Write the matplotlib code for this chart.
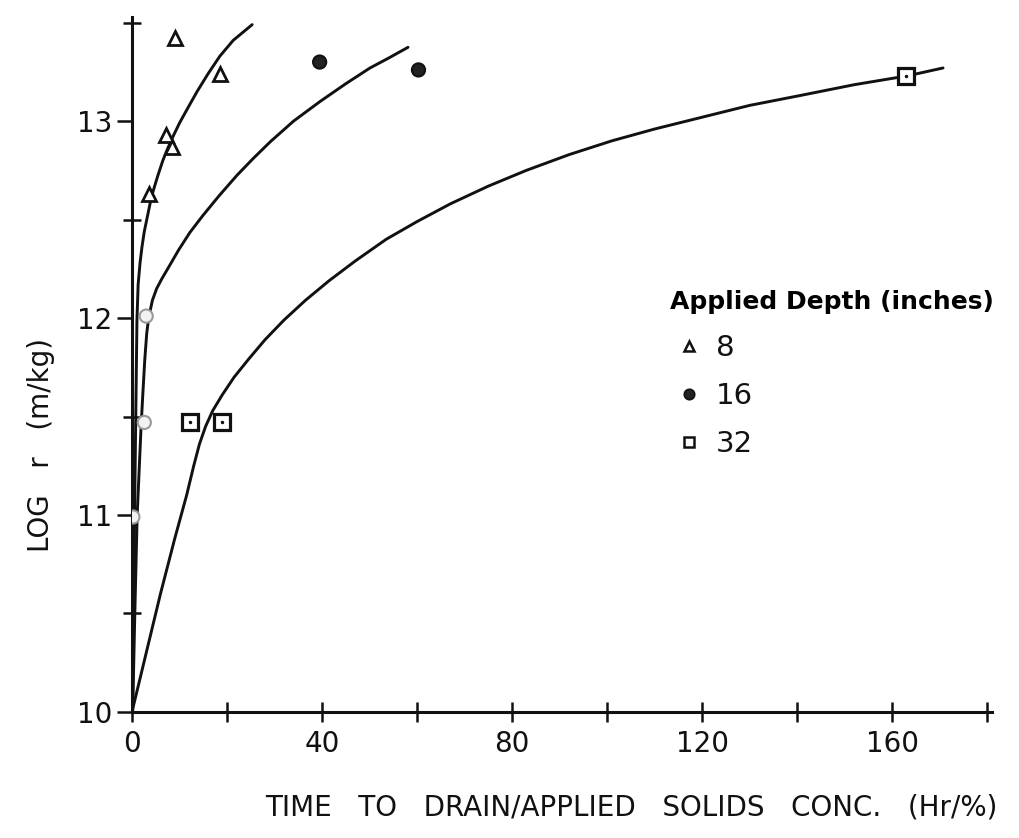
import matplotlib
matplotlib.use("Agg")
import matplotlib.pyplot as plt
from matplotlib.lines import Line2D
from matplotlib.ticker import FixedLocator, FixedFormatter

# ---- data ----
tri_x = [9.0, 18.5, 7.2, 8.4, 3.6]
tri_y = [13.42, 13.24, 12.93, 12.87, 12.63]

circ_x = [39.5, 60.3, 3.0, 2.6, 0.2]
circ_y = [13.30, 13.26, 12.01, 11.47, 10.99]

sq_x = [12.3, 19.0, 163.0]
sq_y = [11.47, 11.47, 13.23]

curve8_x = [0.1, 0.35, 0.55, 0.75, 0.9, 1.05, 1.3, 1.7, 2.1, 2.6, 3.2, 3.8, 4.4, 5.4, 6.5, 7.5,
            8.6, 10.0, 11.6, 13.7, 16.0, 18.5, 21.3, 25.3]
curve8_y = [10.0, 10.5, 11.0, 11.4, 11.7, 11.99, 12.17, 12.28, 12.36, 12.44, 12.51, 12.58, 12.64,
            12.72, 12.80, 12.86, 12.92, 12.99, 13.06, 13.15, 13.24, 13.33, 13.41, 13.49]

curve16_x = [0.15, 0.6, 1.1, 1.5, 1.9, 2.3, 2.7, 3.1, 3.5, 4.3, 5.2, 6.3, 8.0, 9.8, 12.2, 14.9,
             18.3, 22.1, 25.5, 29.1, 34.0, 39.6, 45.0, 50.1, 54.0, 58.1]
curve16_y = [10.0, 10.5, 11.0, 11.22, 11.44, 11.62, 11.79, 11.92, 12.0, 12.09, 12.15, 12.2,
             12.27, 12.345, 12.435, 12.52, 12.62, 12.725, 12.81, 12.895, 13.0, 13.1, 13.19, 13.27,
             13.32, 13.375]

curve32_x = [0, 3, 6, 9, 11.5, 13, 14.2, 15.5, 17, 19, 21.5, 24.5, 28, 32, 36.5, 41.5, 47, 53.5,
             60, 67, 75, 83, 92, 101, 110, 120, 130, 140.6, 152, 163.2, 170.7]
curve32_y = [10.0, 10.3, 10.6, 10.88, 11.1, 11.25, 11.36, 11.45, 11.53, 11.61, 11.70, 11.79,
             11.89, 11.99, 12.09, 12.19, 12.29, 12.40, 12.49, 12.58, 12.67, 12.75, 12.83, 12.90,
             12.96, 13.02, 13.08, 13.13, 13.185, 13.23, 13.27]

x_ticks = [0, 20, 40, 60, 80, 100, 120, 140, 160, 180]
x_ticklabels = ["0", "", "40", "", "80", "", "120", "", "160", ""]
y_major = [10, 11, 12, 13]
y_major_labels = ["10", "11", "12", "13"]
y_minor = [10.5, 11.5, 12.5, 13.5]

legend_title = "Applied Depth (inches)"
depth_labels = ["8", "16", "32"]
x_label = "TIME   TO   DRAIN/APPLIED   SOLIDS   CONC.   (Hr/%)"
y_label = "LOG   r   (m/kg)"

# ---- figure ----
plt.rcParams["font.family"] = ["DejaVu Sans"]
fig = plt.figure(figsize=(10.19, 8.38), dpi=100)
ax = fig.add_axes([0.1295, 0.1504, 0.844, 0.8296])
ax.set_xlim(0, 181)
ax.set_ylim(10, 13.53)

ink = "#111111"
lw = 2.1
for cx, cy in [(curve8_x, curve8_y), (curve16_x, curve16_y), (curve32_x, curve32_y)]:
    ax.plot(cx, cy, color=ink, lw=lw, solid_capstyle="round", solid_joinstyle="round", zorder=2)

ax.plot(tri_x, tri_y, ls="none", marker="^", ms=10, mfc="white", mec=ink, mew=2.0, zorder=4)
circ_face = [("#f2f2f2" if x < 5 else "#222222") for x in circ_x]
circ_edge = [("#999999" if x < 5 else ink) for x in circ_x]
ax.scatter(circ_x, circ_y, s=90, c=circ_face, edgecolors=circ_edge, linewidths=1.5, zorder=4)
ax.plot(sq_x, sq_y, ls="none", marker="s", ms=11, mfc="white", mec=ink, mew=2.3, zorder=4)
ax.plot(sq_x, sq_y, ls="none", marker="o", ms=1.5, mfc=ink, mec=ink, zorder=5)

# spines
for s in ["top", "right"]:
    ax.spines[s].set_visible(False)
for s in ["left", "bottom"]:
    ax.spines[s].set_linewidth(2.2)
    ax.spines[s].set_color(ink)

ax.xaxis.set_major_locator(FixedLocator(x_ticks))
ax.xaxis.set_major_formatter(FixedFormatter(x_ticklabels))
ax.tick_params(axis="x", which="major", direction="inout", length=14, width=1.8, pad=6,
               colors=ink, labelsize=20)
ax.yaxis.set_major_locator(FixedLocator(y_major))
ax.yaxis.set_major_formatter(FixedFormatter(y_major_labels))
ax.yaxis.set_minor_locator(FixedLocator(y_minor))
ax.tick_params(axis="y", which="major", direction="out", length=11, width=1.8, pad=3,
               colors=ink, labelsize=20)
ax.tick_params(axis="y", which="minor", direction="inout", length=13, width=1.8, colors=ink)

ax.set_xlabel(x_label, fontsize=20, color=ink)
ax.xaxis.set_label_coords((631 - 132) / 860, -0.118)
ax.set_ylabel(y_label, fontsize=20, color=ink)
ax.yaxis.set_label_coords(-(132 - 55) / 860, (712 - 445) / 695)

# legend
handles = [
    Line2D([], [], ls="none", marker="^", ms=7.5, mfc="white", mec=ink, mew=1.8),
    Line2D([], [], ls="none", marker="o", ms=7.5, mfc="#222222", mec=ink, mew=1.2),
    Line2D([], [], ls="none", marker="s", ms=7.5, mfc="white", mec=ink, mew=1.8),
]
leg = ax.legend(handles, depth_labels, title=legend_title, loc="upper left",
                bbox_to_anchor=((650 - 132) / 860, (712 - 270) / 695), frameon=False,
                alignment="left", fontsize=21,
                title_fontproperties={"size": 18, "weight": "bold"},
                handlelength=1.3, handletextpad=0.25, labelspacing=0.68, borderpad=0.2)
for t in leg.get_texts():
    t.set_color(ink)

fig.savefig("out.png", dpi=100, facecolor="white")
